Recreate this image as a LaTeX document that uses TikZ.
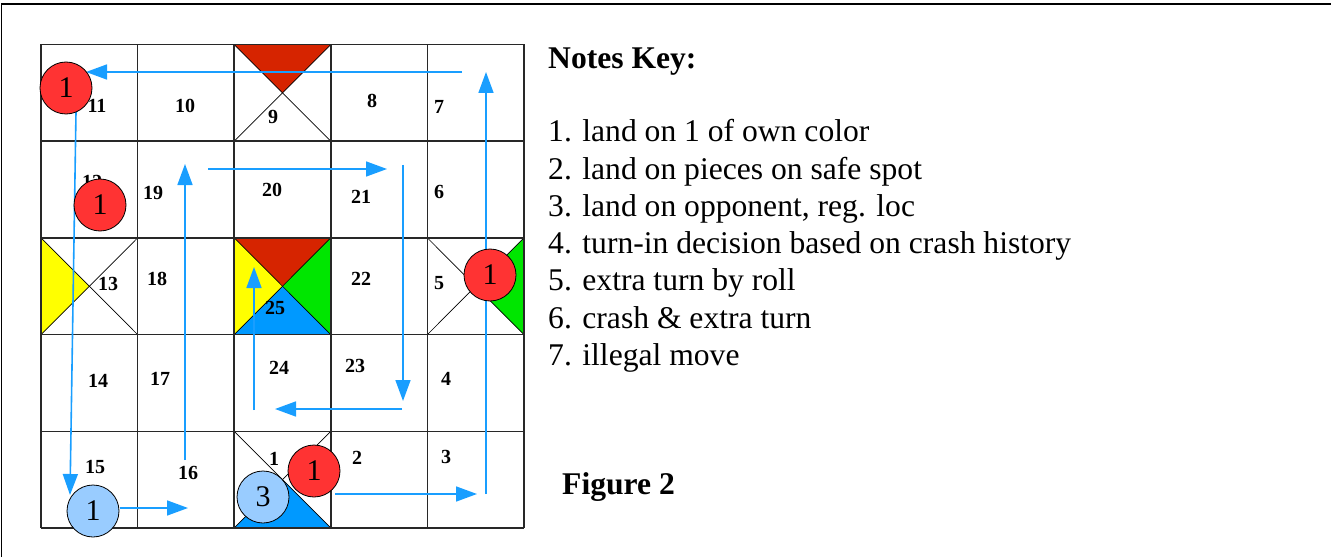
\documentclass[tikz,border=0pt]{standalone}
\usepackage{fontspec}
\setmainfont{Liberation Serif}
\usetikzlibrary{arrows.meta}
\definecolor{tred}{RGB}{214,36,0}
\definecolor{tyellow}{RGB}{255,255,0}
\definecolor{tgreen}{RGB}{0,230,0}
\definecolor{tblue}{RGB}{0,153,255}
\definecolor{arrowblue}{RGB}{25,158,255}
\definecolor{tokred}{RGB}{255,51,51}
\definecolor{tokblue}{RGB}{153,204,255}
\definecolor{gridgray}{RGB}{40,40,40}
\begin{document}
\begin{tikzpicture}[x=1pt,y=-1pt,
  cellnum/.style={font=\fontsize{20}{20}\selectfont\bfseries, inner sep=0},
  token/.style={circle, draw=black, line width=0.8pt, minimum size=52pt, inner sep=0, font=\fontsize{30}{30}\selectfont},
  redtok/.style={token, fill=tokred},
  bluetok/.style={token, fill=tokblue},
  mv/.style={draw=arrowblue, line width=1.6pt, -{Triangle[length=21pt,width=15pt]}},
  gridline/.style={draw=gridgray, line width=1.6pt},
  diag/.style={draw=black, line width=0.7pt},
  note/.style={anchor=base west, inner sep=0, font=\fontsize{31.6}{37}\selectfont}]
\useasboundingbox (0,0) rectangle (1331,559);
% frame
\draw[line width=1.5pt] (1.5,557) -- (1.5,4) -- (1331,4);
% coloured triangles
\fill[tred] (234.2,44.5) -- (330.8,44.5) -- (282.5,92.85) -- cycle;
\fill[tyellow] (41,237.9) -- (41,334.6) -- (89.3,286.25) -- cycle;
\fill[tred] (234.2,237.9) -- (330.8,237.9) -- (282.5,286.25) -- cycle;
\fill[tyellow] (234.2,237.9) -- (234.2,334.6) -- (282.5,286.25) -- cycle;
\fill[tgreen] (330.8,237.9) -- (330.8,334.6) -- (282.5,286.25) -- cycle;
\fill[tblue] (234.2,334.6) -- (330.8,334.6) -- (282.5,286.25) -- cycle;
\fill[tgreen] (524,237.9) -- (524,334.6) -- (475.7,286.25) -- cycle;
\fill[tblue] (234.2,528) -- (330.8,528) -- (282.5,479.65) -- cycle;
% diagonals
\foreach \xa/\xb/\ya/\yb in {234.2/330.8/44.5/141.2, 41/137.6/237.9/334.6, 234.2/330.8/237.9/334.6, 427.4/524/237.9/334.6, 234.2/330.8/431.3/528}{
  \draw[diag] (\xa,\ya) -- (\xb,\yb);
  \draw[diag] (\xa,\yb) -- (\xb,\ya);
}
% grid
\foreach \x in {41,137.6,234.2,330.8,427.4,524}{\draw[gridline] (\x,44.5) -- (\x,528);}
\foreach \y in {44.5,141.2,237.9,334.6,431.3,528}{\draw[gridline] (41,\y) -- (524,\y);}
% cell numbers
\node[cellnum] (n11) at (97,106) {11};
\node[cellnum] (n10) at (185,106) {10};
\node[cellnum] (n9) at (273,117) {9};
\node[cellnum] (n8) at (372,101) {8};
\node[cellnum] (n7) at (439,107) {7};
\node[cellnum] (n12) at (92,182) {12};
\node[cellnum] (n19) at (153,193) {19};
\node[cellnum] (n20) at (272,190) {20};
\node[cellnum] (n21) at (361,197) {21};
\node[cellnum] (n6) at (439,192) {6};
\node[cellnum] (n13) at (108,284) {13};
\node[cellnum] (n18) at (157,279) {18};
\node[cellnum] (n25) at (275,308) {25};
\node[cellnum] (n22) at (361,279) {22};
\node[cellnum] (n5) at (439,283) {5};
\node[cellnum] (n14) at (98,381) {14};
\node[cellnum] (n17) at (160,379) {17};
\node[cellnum] (n24) at (279,368) {24};
\node[cellnum] (n23) at (355,366) {23};
\node[cellnum] (n4) at (446,379) {4};
\node[cellnum] (n15) at (95,467) {15};
\node[cellnum] (n16) at (188,473) {16};
\node[cellnum] (n1) at (274,459) {1};
\node[cellnum] (n2) at (357,458) {2};
\node[cellnum] (n3) at (446,457) {3};
% path coordinates
\coordinate (a1s) at (462,72);  \coordinate (a1e) at (86,72);
\coordinate (a2s) at (76,112);  \coordinate (a2e) at (70,495);
\coordinate (a3s) at (120,508); \coordinate (a3e) at (188,508);
\coordinate (a4s) at (185,460); \coordinate (a4e) at (185,164);
\coordinate (a5s) at (208,169); \coordinate (a5e) at (387,169);
\coordinate (a6s) at (403,165); \coordinate (a6e) at (403,401);
\coordinate (a7s) at (402,409); \coordinate (a7e) at (275,409);
\coordinate (a8s) at (254,410); \coordinate (a8e) at (254,267);
\coordinate (a9s) at (335,494); \coordinate (a9e) at (477,494);
\coordinate (a10s) at (486,494); \coordinate (a10e) at (486,72);
\foreach \i in {1,...,10}{\draw[mv] (a\i s) -- (a\i e);}
% tokens
\node[redtok] (r1) at (66,88) {1};
\node[redtok] (r2) at (100,205) {1};
\node[redtok] (r3) at (490,275) {1};
\node[bluetok] (b2) at (263,497) {3};
\node[redtok] (r4) at (314,471) {1};
\node[bluetok] (b1) at (93,511) {1};
% notes
\node[note, font=\fontsize{31.6}{37}\selectfont\bfseries] (title) at (548,69) {Notes Key:};
\node[note] (k1) at (548,142) {1. land on 1 of own color};
\node[note] (k2) at (548,179.2) {2. land on pieces on safe spot};
\node[note] (k3) at (548,216.4) {3. land on opponent, reg. loc};
\node[note] (k4) at (548,253.6) {4. turn-in decision based on crash history};
\node[note] (k5) at (548,290.8) {5. extra turn by roll};
\node[note] (k6) at (548,328) {6. crash \& extra turn};
\node[note] (k7) at (548,365.2) {7. illegal move};
\node[note, font=\fontsize{31.6}{37}\selectfont\bfseries] (fig) at (562,494) {Figure 2};
\end{tikzpicture}
\end{document}
